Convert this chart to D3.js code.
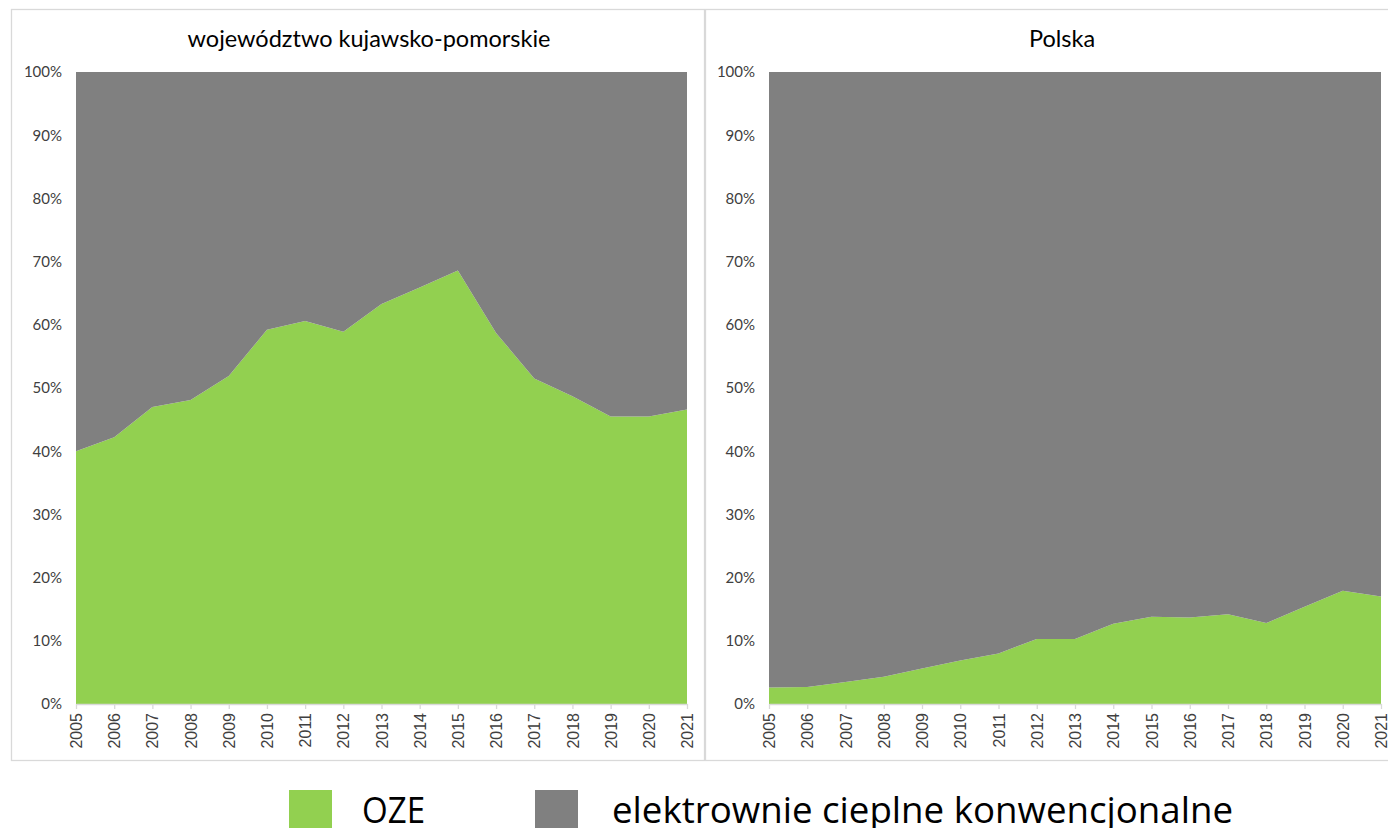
<!DOCTYPE html>
<html lang="pl">
<head>
  <meta charset="UTF-8">
  <title>OZE vs elektrownie konwencjonalne</title>
  <script src="https://d3js.org/d3.v7.min.js"></script>
  <style>
    body { margin: 0; background: #fff; }
    svg { display: block; }
  </style>
</head>
<body>
  <div id="chart"></div>
  <script>
    // lata i udziały (%)
    const years = [2005, 2006, 2007, 2008, 2009, 2010, 2011, 2012, 2013, 2014, 2015, 2016, 2017, 2018, 2019, 2020, 2021];
    const ozeKujPom  = [40.0, 42.2, 47.0, 48.1, 51.9, 59.2, 60.6, 58.9, 63.3, 65.9, 68.6, 58.7, 51.5, 48.7, 45.5, 45.5, 46.6];
    const konwKujPom = [60.0, 57.8, 53.0, 51.9, 48.1, 40.8, 39.4, 41.1, 36.7, 34.1, 31.4, 41.3, 48.5, 51.3, 54.5, 54.5, 53.4];
    const ozePolska  = [2.6, 2.7, 3.5, 4.3, 5.6, 6.9, 8.0, 10.3, 10.3, 12.7, 13.8, 13.7, 14.2, 12.8, 15.4, 17.9, 17.0];
    const konwPolska = [97.4, 97.3, 96.5, 95.7, 94.4, 93.1, 92.0, 89.7, 89.7, 87.3, 86.2, 86.3, 85.8, 87.2, 84.6, 82.1, 83.0];
    const yTicks = [0, 10, 20, 30, 40, 50, 60, 70, 80, 90, 100];
    const seriesNames = ["OZE", "elektrownie cieplne konwencjonalne"];
    const colors = ["#92d050", "#808080"];

    const panels = [
      { title: "województwo kujawsko-pomorskie", titleX: 369, oze: ozeKujPom, konw: konwKujPom, box: [11, 704], plot: [76, 687] },
      { title: "Polska", titleX: 1062, oze: ozePolska, konw: konwPolska, box: [705, 1400], plot: [769, 1381] }
    ];

    const width = 1388, height = 828;
    const plotTop = 72, plotBottom = 704;

    const svg = d3.select("#chart").append("svg")
      .attr("width", width)
      .attr("height", height);

    const y = d3.scaleLinear().domain([0, 100]).range([plotBottom, plotTop]);

    panels.forEach(p => {
      // ramka panelu
      svg.append("rect")
        .attr("x", p.box[0] + 0.5)
        .attr("y", 9.5)
        .attr("width", p.box[1] - p.box[0])
        .attr("height", 751)
        .attr("fill", "#fff")
        .attr("stroke", "#d9d9d9")
        .attr("stroke-width", 1.3);

      const x = d3.scaleLinear().domain(d3.extent(years)).range(p.plot);

      const rows = years.map((yr, i) => ({ year: yr, oze: p.oze[i], konw: p.konw[i] }));
      const stacked = d3.stack().keys(["oze", "konw"])(rows);

      const area = d3.area()
        .x(d => x(d.data.year))
        .y0(d => y(d[0]))
        .y1(d => y(d[1]));

      svg.append("g").selectAll("path")
        .data(stacked)
        .join("path")
        .attr("fill", (d, i) => colors[i])
        .attr("d", area);

      // oś Y
      const yAxis = svg.append("g")
        .attr("transform", `translate(${p.plot[0]},0)`)
        .call(d3.axisLeft(y).tickValues(yTicks).tickFormat(d => d + "%").tickSize(0).tickPadding(14));
      yAxis.select(".domain").remove();
      yAxis.selectAll("text")
        .attr("font-family", "Lato, sans-serif")
        .attr("font-size", 15)
        .attr("fill", "#404040");

      // oś X
      const xAxis = svg.append("g")
        .attr("transform", `translate(0,${plotBottom})`)
        .call(d3.axisBottom(x).tickValues(years).tickFormat(d3.format("d")).tickSize(5).tickSizeOuter(0));
      xAxis.select(".domain").attr("stroke", "#d9d9d9").attr("stroke-width", 1.5);
      xAxis.selectAll(".tick line").attr("stroke", "#d9d9d9").attr("stroke-width", 1.3);
      xAxis.selectAll("text")
        .attr("font-family", "'Liberation Sans', Arial, sans-serif")
        .attr("font-size", 16)
        .attr("fill", "#404040")
        .attr("text-anchor", "end")
        .attr("dy", "0.35em")
        .attr("transform", "translate(0,9) rotate(-90)")
        .attr("x", 0)
        .attr("y", 0);

      // tytuł
      svg.append("text")
        .attr("x", p.titleX)
        .attr("y", 47)
        .attr("text-anchor", "middle")
        .attr("font-family", "Lato, sans-serif")
        .attr("font-size", 23.5)
        .attr("fill", "#000")
        .text(p.title);
    });

    // legenda
    const legendX = [289, 535];
    const legendTextX = [362, 612];
    const legendLen = [63, 621];
    const legend = svg.append("g");
    seriesNames.forEach((name, i) => {
      legend.append("rect")
        .attr("x", legendX[i])
        .attr("y", 790)
        .attr("width", 43)
        .attr("height", 38)
        .attr("fill", colors[i]);
      legend.append("text")
        .attr("x", legendTextX[i])
        .attr("y", 823)
        .attr("font-family", "'Open Sans', sans-serif")
        .attr("font-size", 37)
        .attr("fill", "#000")
        .attr("textLength", legendLen[i])
        .attr("lengthAdjust", "spacingAndGlyphs")
        .text(name);
    });
  </script>
</body>
</html>
